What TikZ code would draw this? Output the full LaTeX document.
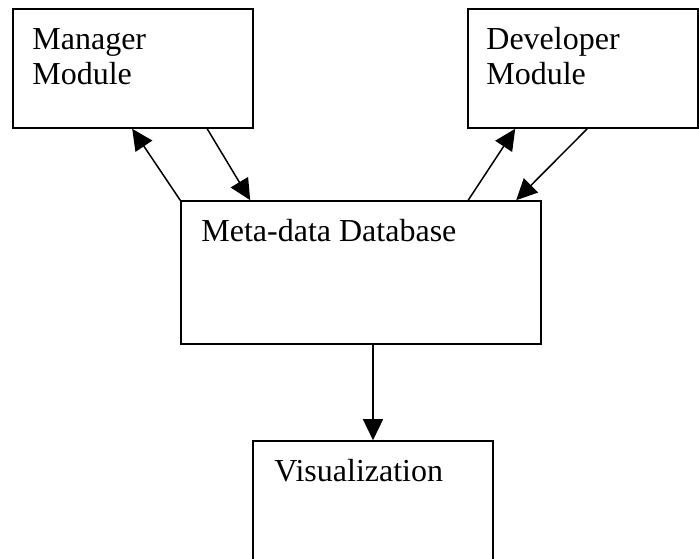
\documentclass[tikz,border=0pt]{standalone}
\usepackage{fontspec}
\setmainfont{Liberation Serif}
\usetikzlibrary{arrows.meta}

\begin{document}
\begin{tikzpicture}[
    x=1pt, y=-1pt,
    font=\fontsize{32}{35}\selectfont,
    box/.style={draw, line width=1.6pt, inner sep=0pt},
    txt/.style={anchor=base west, align=left, inner sep=0pt},
    flow/.style={-{Triangle[length=21pt, width=20pt]}, line width=1.5pt},
  ]
  \useasboundingbox (0,0) rectangle (699,558);

  % --- Modules ------------------------------------------------------------
  \node[box, minimum width=240pt, minimum height=119pt] (mgr) at (133, 68.5) {};
  \node[txt] (mgrtxt) at ([shift={(20,76)}]mgr.north west) {Manager\\Module};

  \node[box, minimum width=230pt, minimum height=119pt] (dev) at (583, 68.5) {};
  \node[txt] (devtxt) at ([shift={(19,76)}]dev.north west) {Developer\\Module};

  % --- Database -----------------------------------------------------------
  \node[box, minimum width=360pt, minimum height=143pt] (meta) at (361, 272.5) {};
  \node[txt] (metatxt) at ([shift={(21,41)}]meta.north west) {Meta-data Database};

  % --- Output -------------------------------------------------------------
  \node[box, minimum width=240pt, minimum height=128pt] (vis) at (373, 505) {};
  \node[txt] (vistxt) at ([shift={(22,41)}]vis.north west) {Visualization};

  % --- Arrows -------------------------------------------------------------
  \draw[flow] (meta.north west) -- ([xshift=120pt]mgr.south west);
  \draw[flow] ([xshift=195pt]mgr.south west) -- ([xshift=70pt]meta.north west);
  \draw[flow] ([xshift=288pt]meta.north west) -- ([xshift=48pt]dev.south west);
  \draw[flow] ([xshift=120pt]dev.south west) -- ([xshift=336pt]meta.north west);
  \draw[flow] (vis.north |- meta.south) -- (vis.north);

\end{tikzpicture}
\end{document}
